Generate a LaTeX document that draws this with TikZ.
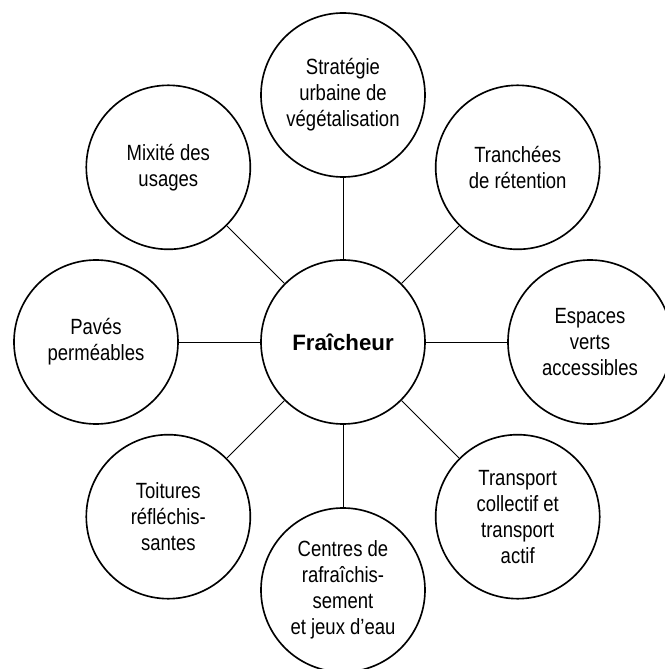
\documentclass[tikz,border=0pt]{standalone}
\usepackage{fontspec}
\setmainfont{Liberation Sans}
\newfontfamily\narrowfont{Liberation Sans}[FakeStretch=0.84]
\usepackage{tikz}

\begin{document}
\begin{tikzpicture}[x=0.03cm, y=0.03cm,
  bubble/.style={circle, draw, line width=1.4pt, minimum size=4.92cm, inner sep=0pt, align=center},
  leaf/.style={bubble, font=\narrowfont\fontsize{18.8}{22.2}\selectfont},
  hub/.style={bubble, font=\bfseries\fontsize{19}{22}\selectfont},
  spoke/.style={line width=0.8pt}]

  \useasboundingbox (-343,-327) rectangle (321,342);

  \draw[]
   (0,0) node[hub](0) {Fraîcheur}
   (0,247) node[leaf](1) {Stratégie\\urbaine de\\végétalisation}
   (174.7,174.7) node[leaf](2) {Tranchées\\de rétention}
   (247,0) node[leaf](3) {Espaces\\verts\\accessibles}
   (174.7,-174.7) node[leaf](4) {Transport\\collectif et\\transport\\actif}
   (0,-248) node[leaf](5) {Centres de\\rafraîchis-\\sement\\et jeux d’eau}
   (-174.7,-174.7) node[leaf](6) {Toitures\\réfléchis-\\santes}
   (-247,0) node[leaf](7) {Pavés\\perméables}
   (-174.7,174.7) node[leaf](8) {Mixité des\\usages};

  %Spokes
  \draw[spoke]
   (0) edge (1)
   (0) edge (2)
   (0) edge (3)
   (0) edge (4)
   (0) edge (5)
   (0) edge (6)
   (0) edge (7)
   (0) edge (8);
\end{tikzpicture}
\end{document}
